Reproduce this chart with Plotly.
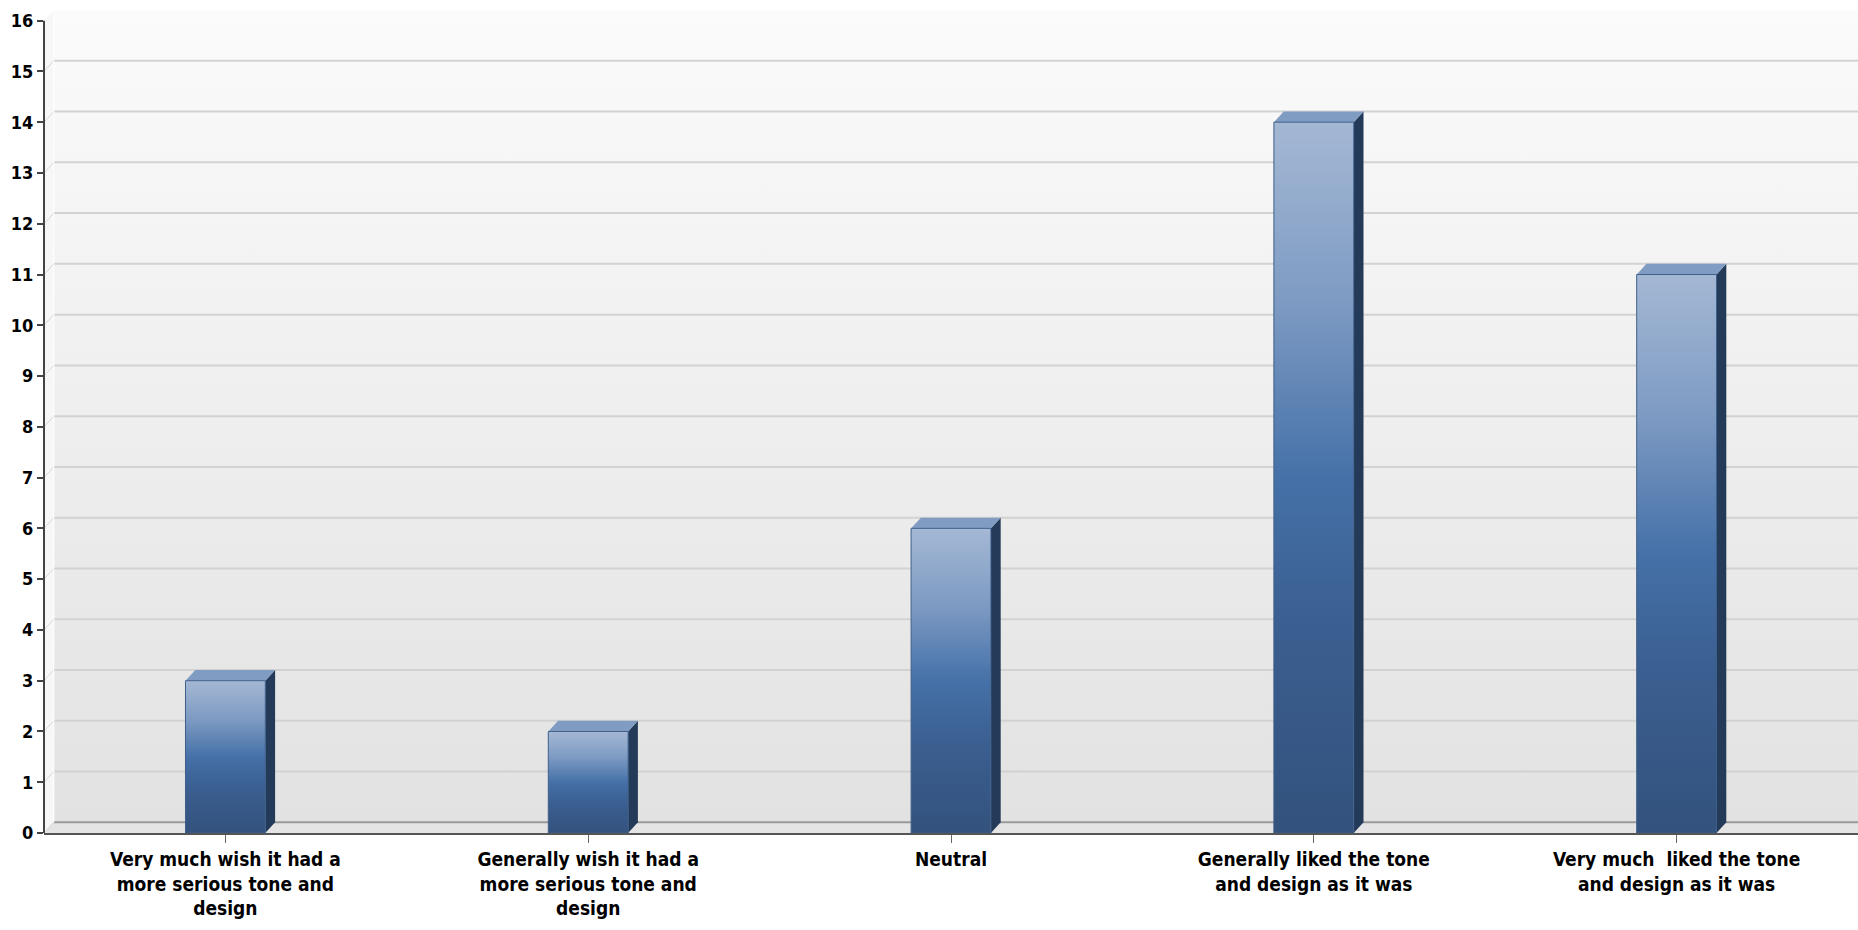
import plotly.graph_objects as go

categories = [
    "Very much wish it had a<br>more serious tone and<br>design",
    "Generally wish it had a<br>more serious tone and<br>design",
    "Neutral",
    "Generally liked the tone<br>and design as it was",
    "Very much  liked the tone<br>and design as it was",
]
values = [3, 2, 6, 14, 11]
y_ticks = list(range(0, 17))

FONT = "Liberation Sans Narrow, Arial Narrow, DejaVu Sans Condensed, sans-serif"
W = 0.22      # bar width (category units)
DX = 0.027    # 3D depth in x
DY = 0.21     # 3D depth in y
YMAX = 16

xs = list(range(len(categories)))
fig = go.Figure()

# back wall with vertical gradient
fig.add_trace(go.Scatter(
    x=[-0.5 + DX, 4.5, 4.5, -0.5 + DX, -0.5 + DX],
    y=[DY, DY, YMAX + DY, YMAX + DY, DY],
    mode="lines", line=dict(width=0), fill="toself",
    fillgradient=dict(type="vertical", start=DY, stop=YMAX + DY,
                      colorscale=[[0, "#e2e2e2"], [1, "#fbfbfb"]]),
    hoverinfo="skip", showlegend=False))

# left side wall
fig.add_trace(go.Scatter(
    x=[-0.5, -0.5 + DX, -0.5 + DX, -0.5, -0.5],
    y=[0, DY, YMAX + DY, YMAX, 0],
    mode="lines", line=dict(width=0), fill="toself", fillcolor="#f7f7f7",
    hoverinfo="skip", showlegend=False))

# floor
fig.add_trace(go.Scatter(
    x=[-0.5, -0.5 + DX, 4.5, 4.5, -0.5],
    y=[0, DY, DY, 0, 0],
    mode="lines", line=dict(width=0), fill="toself", fillcolor="#e4e4e4",
    hoverinfo="skip", showlegend=False))

# gridlines on back wall + diagonals on side wall
gx, gy, dxs, dys = [], [], [], []
for k in y_ticks[1:-1]:
    gx += [-0.5 + DX, 4.5, None]
    gy += [k + DY, k + DY, None]
for k in y_ticks[:-1]:
    dxs += [-0.5, -0.5 + DX, None]
    dys += [k, k + DY, None]
fig.add_trace(go.Scatter(x=gx, y=gy, mode="lines",
                         line=dict(color="#d2d2d2", width=2),
                         hoverinfo="skip", showlegend=False))
fig.add_trace(go.Scatter(x=dxs, y=dys, mode="lines",
                         line=dict(color="#d6d6d6", width=1),
                         hoverinfo="skip", showlegend=False))
# floor back line
fig.add_trace(go.Scatter(x=[-0.5 + DX, 4.5], y=[DY, DY], mode="lines",
                         line=dict(color="#9a9a9a", width=2),
                         hoverinfo="skip", showlegend=False))
# back-wall left edge highlight
fig.add_trace(go.Scatter(x=[-0.5 + DX, -0.5 + DX], y=[DY, YMAX + DY], mode="lines",
                         line=dict(color="#ffffff", width=1),
                         hoverinfo="skip", showlegend=False))

# bars (data marks)
fig.add_trace(go.Bar(x=xs, y=values, width=W, marker=dict(color="#4a72a8", line=dict(width=0)),
                     showlegend=False, hoverinfo="y"))

for x, v in zip(xs, values):
    l, r = x - W / 2, x + W / 2
    # side face
    fig.add_trace(go.Scatter(
        x=[r, r + DX, r + DX, r, r], y=[0, DY, v + DY, v, 0],
        mode="lines", line=dict(width=0), fill="toself", fillcolor="#233a58",
        hoverinfo="skip", showlegend=False))
    # top face
    fig.add_trace(go.Scatter(
        x=[l, l + DX, r + DX, r, l], y=[v, v + DY, v + DY, v, v],
        mode="lines", line=dict(width=0), fill="toself", fillcolor="#809cc3",
        hoverinfo="skip", showlegend=False))
    # front face gradient
    fig.add_trace(go.Scatter(
        x=[l, r, r, l, l], y=[0, 0, v, v, 0],
        mode="lines", line=dict(color="#3f5f8a", width=1), fill="toself",
        fillgradient=dict(type="vertical", start=0, stop=v,
                          colorscale=[[0, "#33527d"], [0.3, "#3b5f91"], [0.5, "#4571a8"],
                                      [0.75, "#7e9bc3"], [1, "#a4b8d4"]]),
        hoverinfo="skip", showlegend=False))

fig.update_layout(
    width=1858, height=930,
    margin=dict(l=44, r=0, t=10, b=97),
    paper_bgcolor="white", plot_bgcolor="white",
    bargap=0,
    xaxis=dict(range=[-0.5, 4.5], tickvals=xs, ticktext=categories,
               showgrid=False, zeroline=False, showline=True,
               linecolor="#555555", linewidth=2,
               ticks="outside", ticklen=8, tickcolor="#666666", tickwidth=1,
               tickfont=dict(family=FONT, size=19, color="#000000", weight="bold"),
               tickangle=0, fixedrange=True),
    yaxis=dict(range=[0, YMAX + DY], tickvals=y_ticks,
               showgrid=False, zeroline=False, showline=False,
               ticks="outside", ticklen=6, tickcolor="#444444", tickwidth=2,
               tickfont=dict(family=FONT, size=18, color="#000000", weight="bold"),
               fixedrange=True),
    shapes=[dict(type="line", xref="paper", yref="y", x0=0, x1=0, y0=0, y1=YMAX,
                 line=dict(color="#444444", width=2), layer="above")],
)

fig.write_html("out.html")
